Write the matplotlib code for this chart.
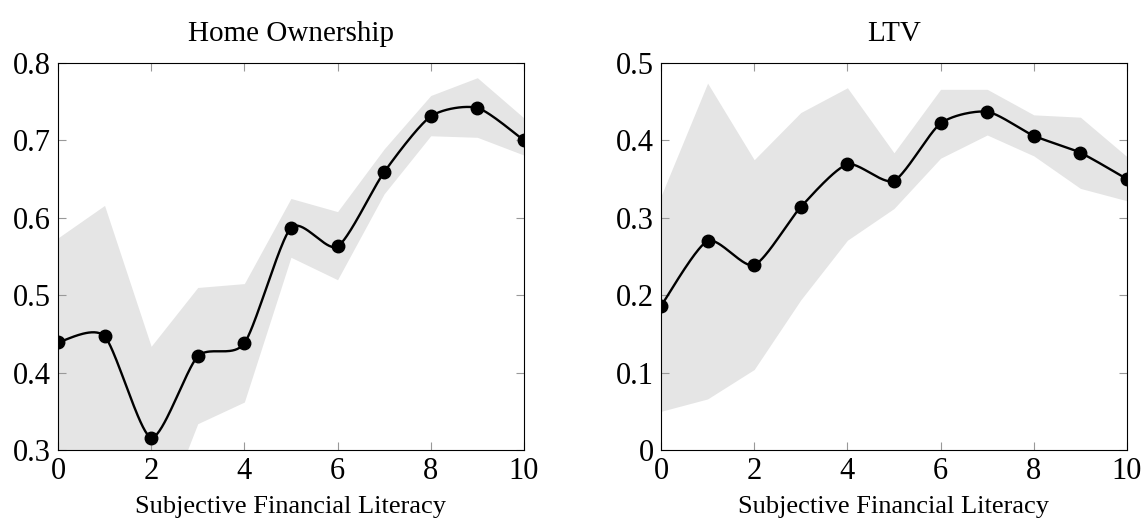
import numpy as np
import matplotlib
matplotlib.use("Agg")
import matplotlib.pyplot as plt

# data
x = [0, 1, 2, 3, 4, 5, 6, 7, 8, 9, 10]

home_mean = [0.439, 0.447, 0.316, 0.421, 0.438, 0.587, 0.563, 0.659, 0.731, 0.742, 0.700]
home_upper = [0.574, 0.616, 0.434, 0.510, 0.515, 0.625, 0.608, 0.689, 0.758, 0.781, 0.729]
home_lower = [0.25, 0.24, 0.18, 0.334, 0.362, 0.549, 0.520, 0.631, 0.706, 0.704, 0.681]

ltv_mean = [0.186, 0.270, 0.239, 0.314, 0.369, 0.348, 0.422, 0.437, 0.406, 0.384, 0.350]
ltv_upper = [0.328, 0.474, 0.375, 0.436, 0.468, 0.384, 0.466, 0.466, 0.433, 0.430, 0.379]
ltv_lower = [0.050, 0.066, 0.104, 0.194, 0.271, 0.312, 0.377, 0.407, 0.380, 0.338, 0.322]

home_yticks = [0.3, 0.4, 0.5, 0.6, 0.7, 0.8]
home_ylabels = ["0.3", "0.4", "0.5", "0.6", "0.7", "0.8"]
ltv_yticks = [0, 0.1, 0.2, 0.3, 0.4, 0.5]
ltv_ylabels = ["0", "0.1", "0.2", "0.3", "0.4", "0.5"]
xticks = [0, 2, 4, 6, 8, 10]


def smooth(xs, ys, k=0.12, n=40):
    # cardinal spline through the points (like pgfplots "smooth")
    p = np.column_stack([xs, ys]).astype(float)
    out = []
    for i in range(len(p) - 1):
        a, b = p[i], p[i + 1]
        prev = p[i - 1] if i > 0 else p[i]
        nxt = p[i + 2] if i + 2 < len(p) else p[i + 1]
        c1 = a + k * (b - prev)
        c2 = b - k * (nxt - a)
        t = np.linspace(0, 1, n)[:, None]
        seg = (1 - t) ** 3 * a + 3 * (1 - t) ** 2 * t * c1 + 3 * (1 - t) * t ** 2 * c2 + t ** 3 * b
        out.append(seg if i == 0 else seg[1:])
    out = np.vstack(out)
    return out[:, 0], out[:, 1]


plt.rcParams["font.family"] = ["Liberation Serif", "DejaVu Serif"]
plt.rcParams["font.size"] = 20

fig = plt.figure(figsize=(11.43, 5.29), dpi=100)
ax1 = fig.add_axes([0.0507, 0.1493, 0.4077, 0.7316])
ax2 = fig.add_axes([0.5783, 0.1493, 0.4077, 0.7316])

panels = [
    (ax1, "Home Ownership", home_mean, home_lower, home_upper, (0.3, 0.8), home_yticks, home_ylabels),
    (ax2, "LTV", ltv_mean, ltv_lower, ltv_upper, (0, 0.5), ltv_yticks, ltv_ylabels),
]

for ax, title, mean, lo, hi, ylim, yt, yl in panels:
    ax.fill_between(x, lo, hi, color="#e5e5e5", linewidth=0)
    sx, sy = smooth(x, mean)
    ax.plot(sx, sy, color="black", linewidth=1.7)
    ax.plot(x, mean, "o", color="black", markersize=9)
    ax.set_xlim(0, 10)
    ax.set_ylim(*ylim)
    ax.set_xticks(xticks)
    ax.set_xticklabels([str(v) for v in xticks])
    ax.set_yticks(yt)
    ax.set_yticklabels(yl)
    ax.tick_params(direction="in", length=6, color="#999999", top=True, right=True,
                   labelsize=22, pad=5)
    ax.set_xlabel("Subjective Financial Literacy", fontsize=19, labelpad=7)
    ax.set_title(title, fontsize=21, pad=16)
    for s in ax.spines.values():
        s.set_linewidth(0.8)

fig.savefig("out.png", dpi=100)
